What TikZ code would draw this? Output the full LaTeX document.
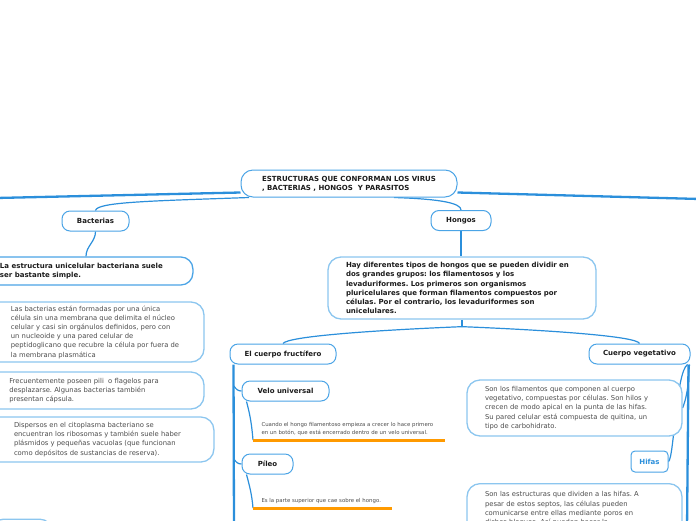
\documentclass[tikz,border=0pt]{standalone}
\usepackage{fontspec}
\setmainfont{DejaVu Sans}
\frenchspacing
\usetikzlibrary{positioning, calc, backgrounds}
\definecolor{cblue}{HTML}{2B8FDB}
\definecolor{cedge}{HTML}{4BA4E6}
\definecolor{clight}{HTML}{8CC6EF}
\definecolor{corange}{HTML}{FF9A00}
\definecolor{cdark}{HTML}{1C1C1C}
\definecolor{cgrey}{HTML}{4D4D4D}
\tikzset{
  every picture/.style={line width=1pt},
  topic/.style={draw=cedge, fill=white, rounded corners=8pt, minimum height=20pt, inner sep=0pt, align=center, text=cdark, font=\bfseries\fontsize{7}{9}\selectfont},
  notebox/.style={draw=clight, fill=white, rounded corners=13pt, line width=1.3pt, align=left, inner sep=0pt, text=cgrey, font=\fontsize{6.8}{9.2}\selectfont},
  boldnote/.style={notebox, text=cdark, font=\bfseries\fontsize{7}{9.2}\selectfont},
  link/.style={draw=cblue, line width=1.2pt},
  spine/.style={draw=cblue, line width=2.3pt},
  uline/.style={draw=corange, line width=3pt},
  leaftext/.style={align=left, inner xsep=8pt, inner ysep=4pt, text=cgrey, font=\fontsize{5.4}{7.5}\selectfont},
}
\begin{document}
\begin{tikzpicture}[x=1pt, y=1pt]
  \useasboundingbox (0,0) rectangle (696,-520);
  % central topic
  \node[topic, rounded corners=12pt, minimum width=216pt, minimum height=27pt, align=left] (title) at (349,-183.5) {ESTRUCTURAS QUE CONFORMAN LOS VIRUS\\, BACTERIAS , HONGOS \ Y PARASITOS};
  \coordinate (offL) at (-4,-198);
  \coordinate (offR) at (700,-199);
  % bacterias
  \node[topic, minimum width=67pt] (bact) at (95.5,-221) {Bacterias};
  \node[boldnote, draw=cedge, rounded corners=12pt, minimum width=223pt, minimum height=28pt] (bsimple) at (81.4,-271) {La estructura unicelular bacteriana suele\\ser bastante simple.};
  \node[notebox, minimum width=218pt, minimum height=60pt] (bcell) at (95,-332) {Las bacterias están formadas por una única\\célula sin una membrana que delimita el núcleo\\celular y casi sin orgánulos definidos, pero con\\un nucleoide y una pared celular de\\peptidoglicano que recubre la célula por fuera de\\la membrana plasmática};
  \node[notebox, minimum width=240pt, minimum height=37pt] (bpili) at (84,-390.5) {Frecuentemente poseen pili \ o flagelos para\\desplazarse. Algunas bacterias también\\presentan cápsula.};
  \node[notebox, minimum width=233pt, minimum height=45pt] (bribo) at (97.4,-439.5) {Dispersos en el citoplasma bacteriano se\\encuentran los ribosomas y también suele haber\\plásmidos y pequeñas vacuolas (que funcionan\\como depósitos de sustancias de reserva).};
  \node[notebox, minimum width=62pt, minimum height=30pt, anchor=north west] (bnext) at (-10,-518.5) {};
  % hongos
  \node[topic, minimum width=60pt] (hongos) at (461,-220.5) {Hongos};
  \node[boldnote, minimum height=62pt, text width=232pt, inner xsep=18pt] (hinfo) at (462,-288) {Hay diferentes tipos de hongos que se pueden dividir en\\dos grandes grupos: los filamentosos y los\\levaduriformes. Los primeros son organismos\\pluricelulares que forman filamentos compuestos por\\células. Por el contrario, los levaduriformes son\\unicelulares.};
  % cuerpo fructifero
  \node[topic, minimum width=106pt] (fruct) at (283,-354) {El cuerpo fructífero};
  \node[topic, minimum width=87pt] (velo) at (285.5,-391) {Velo universal};
  \node[leaftext, anchor=south west] (velotxt) at (253,-440) {Cuando el hongo filamentoso empieza a crecer lo hace primero\\en un botón, que está encerrado dentro de un velo universal.};
  \node[topic, minimum width=51pt] (pileo) at (267.5,-464) {Píleo};
  \node[leaftext, anchor=south west] (piletxt) at (253,-508) {Es la parte superior que cae sobre el hongo.};
  \coordinate (fbottom) at (234,-530);
  \coordinate (vjoin) at (234,-386);
  \coordinate (pjoin) at (234,-459);
  % cuerpo vegetativo
  \node[topic, minimum width=101pt] (veget) at (639.5,-354) {Cuerpo vegetativo};
  \node[notebox, minimum height=56pt, text width=179pt, inner xsep=18pt] (filam) at (574.5,-408) {Son los filamentos que componen al cuerpo\\vegetativo, compuestas por células. Son hilos y\\crecen de modo apical en la punta de las hifas.\\Su pared celular está compuesta de quitina, un\\tipo de carbohidrato.};
  \node[topic, rounded corners=4pt, minimum width=37pt, minimum height=21pt, text=cblue] (hifas) at (649.5,-461.5) {Hifas};
  \node[notebox, text width=179pt, inner xsep=18pt, inner ysep=8pt, anchor=north] (septos) at (574.5,-483) {Son las estructuras que dividen a las hifas. A\\pesar de estos septos, las células pueden\\comunicarse entre ellas mediante poros en\\dichos bloques. Así pueden hacer la};
  \coordinate (vbottom) at (687,-530);
  % connectors
  \begin{scope}[on background layer]
    \draw[spine] ([yshift=-9pt]title.west) -- (offL);
    \draw[spine] ([yshift=-9pt]title.east) -- (offR);
    \draw[link] ([xshift=-100pt]title.south) .. controls (150,-201) and (97,-202) .. (bact.north);
    \draw[link] ([xshift=45pt]title.south) .. controls (440,-199) and (461,-203) .. (hongos.north);
    \draw[link] (bact.south) to[out=-90, in=90] ([xshift=4.6pt]bsimple.north);
    \draw[link] (hongos.south) -- (hongos.south |- hinfo.north);
    \draw[link] (hinfo.south) -- ++(0,-7) coordinate (hsplit);
    \draw[link] (hsplit) .. controls (380,-330) and (288,-336) .. (fruct.north);
    \draw[link] (hsplit) .. controls (545,-330) and (637,-336) .. (veget.north);
    \draw[spine] ([xshift=4pt]fruct.south west) -- (fbottom);
    \draw[link] (vjoin) to[out=-60, in=180] (velo.west);
    \draw[link] (pjoin) to[out=-60, in=180] (pileo.west);
    \draw[link] ([xshift=5pt]velo.south west) to[out=-75, in=95] (velotxt.south west);
    \draw[link] ([xshift=5pt]pileo.south west) to[out=-75, in=95] (piletxt.south west);
    \draw[uline] (velotxt.south west) -- ++(192,0);
    \draw[uline] (piletxt.south west) -- ++(139,0);
    \draw[spine] ([xshift=-2pt]veget.south east) -- (vbottom);
    \draw[link] ([xshift=-1pt]veget.south east) to[out=-95, in=70] (filam.east);
    \draw[link] ([xshift=-3pt]veget.south east) .. controls (676,-372) and (674,-458) .. (hifas.east);
  \end{scope}
\end{tikzpicture}
\end{document}
